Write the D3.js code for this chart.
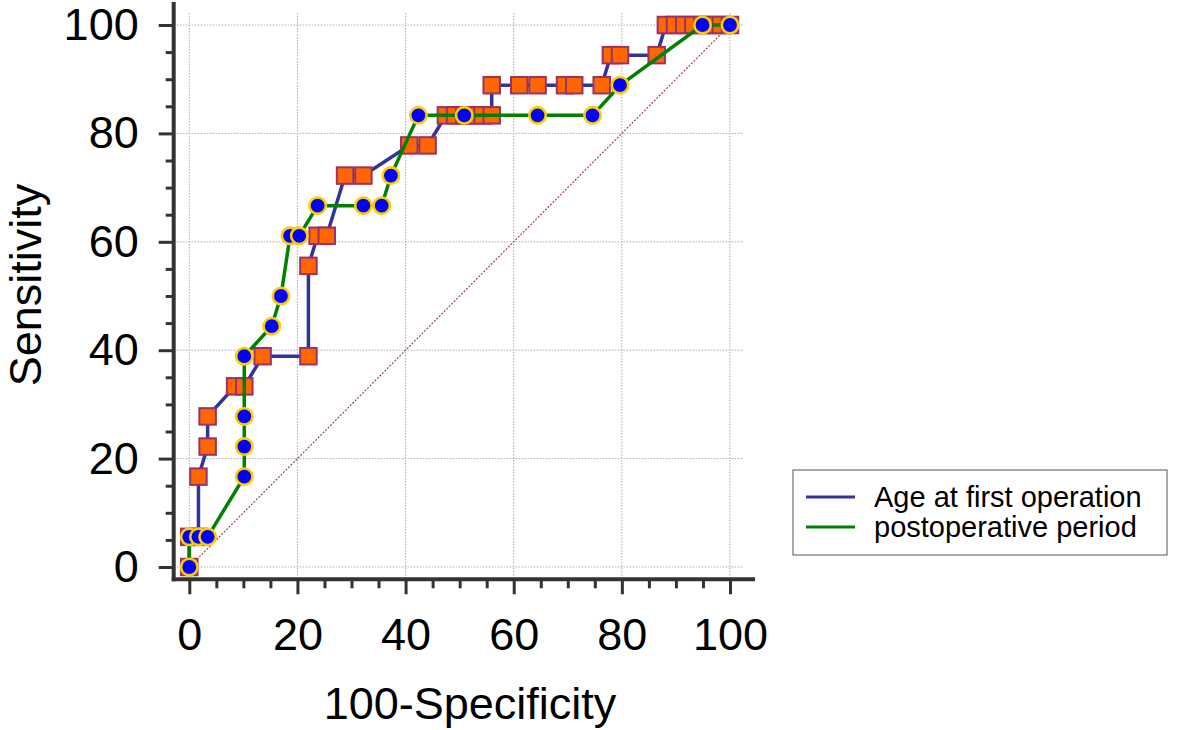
<!DOCTYPE html>
<html>
<head>
<meta charset="utf-8">
<script src="https://cdn.jsdelivr.net/npm/d3@7"></script>
<style>
  body { margin: 0; background: #fff; }
  text { font-family: "Liberation Sans", Arial, sans-serif; fill: #000; }
</style>
</head>
<body>
<svg id="chart"></svg>
<script>
// ROC data: x = 100-Specificity, y = Sensitivity
const ageFpr = [0, 0, 1.69, 1.69, 3.39, 3.39, 8.47, 10.17, 13.56, 22.03, 22.03, 23.73, 25.42, 28.81, 32.2,
    40.68, 44.07, 47.46, 49.15, 50.85, 52.54, 54.24, 55.93, 55.93, 61.02, 64.41, 69.49, 71.19, 76.27,
    77.97, 79.66, 86.44, 88.14, 89.83, 91.53, 93.22, 94.92, 96.61, 98.31, 100];
const ageSens = [0, 5.56, 5.56, 16.67, 22.22, 27.78, 33.33, 33.33, 38.89, 38.89, 55.56, 61.11, 61.11, 72.22, 72.22,
    77.78, 77.78, 83.33, 83.33, 83.33, 83.33, 83.33, 83.33, 88.89, 88.89, 88.89, 88.89, 88.89, 88.89,
    94.44, 94.44, 94.44, 100, 100, 100, 100, 100, 100, 100, 100];

const postFpr = [0, 0, 1.69, 3.39, 10.17, 10.17, 10.17, 10.17, 15.25, 16.95, 18.64, 20.34, 23.73, 32.2, 35.59,
    37.29, 42.37, 50.85, 64.41, 74.58, 79.66, 94.92, 100];
const postSens = [0, 5.56, 5.56, 5.56, 16.67, 22.22, 27.78, 38.89, 44.44, 50, 61.11, 61.11, 66.67, 66.67, 66.67,
    72.22, 83.33, 83.33, 83.33, 83.33, 88.89, 100, 100];

const seriesNames = ["Age at first operation", "postoperative period"];
const majorTicks = [0, 20, 40, 60, 80, 100];
const minorTicks = d3.range(0, 101, 5).filter(d => d % 20 !== 0);

const width = 1181, height = 730;
const svg = d3.select("#chart").attr("width", width).attr("height", height);

const x = d3.scaleLinear().domain([0, 100]).range([189.3, 730]);
const y = d3.scaleLinear().domain([0, 100]).range([567, 25]);

const axisX = 173.7, axisY = 579.3;
const axisColor = "#333";

// grid
const grid = svg.append("g")
    .attr("stroke", "#aaa")
    .attr("stroke-width", 1)
    .attr("stroke-dasharray", "1.5,1.5");
grid.selectAll(".gv").data(majorTicks).join("line")
    .attr("x1", d => x(d)).attr("x2", d => x(d))
    .attr("y1", 13).attr("y2", axisY);
grid.selectAll(".gh").data(majorTicks).join("line")
    .attr("x1", axisX).attr("x2", 743)
    .attr("y1", d => y(d)).attr("y2", d => y(d));

// diagonal reference
svg.append("line")
    .attr("x1", x(0)).attr("y1", y(0))
    .attr("x2", x(100)).attr("y2", y(100))
    .attr("stroke", "#a04848")
    .attr("stroke-width", 1.2)
    .attr("stroke-dasharray", "2,1.5");

// axes
const xAxis = d3.axisBottom(x).tickValues(majorTicks).tickSize(15).tickPadding(24);
const xAxisMinor = d3.axisBottom(x).tickValues(minorTicks).tickSize(9).tickFormat("");
const yAxis = d3.axisLeft(y).tickValues(majorTicks).tickSize(15).tickPadding(20);
const yAxisMinor = d3.axisLeft(y).tickValues(minorTicks).tickSize(8).tickFormat("");

function styleAxis(g) {
    g.select(".domain").remove();
    g.selectAll(".tick line").attr("stroke", axisColor).attr("stroke-width", 3);
    g.selectAll(".tick text").attr("font-size", 45).attr("font-family", "Liberation Sans, Arial, sans-serif").attr("fill", "#000");
}

svg.append("g").attr("transform", `translate(0,${axisY})`).call(xAxis).call(styleAxis);
svg.append("g").attr("transform", `translate(0,${axisY})`).call(xAxisMinor).call(styleAxis);
svg.append("g").attr("transform", `translate(${axisX},0)`).call(yAxis).call(styleAxis);
svg.append("g").attr("transform", `translate(${axisX},0)`).call(yAxisMinor).call(styleAxis);

svg.append("line")
    .attr("x1", axisX).attr("x2", axisX).attr("y1", 2).attr("y2", axisY + 2)
    .attr("stroke", axisColor).attr("stroke-width", 4);
svg.append("line")
    .attr("x1", axisX - 2).attr("x2", 755).attr("y1", axisY).attr("y2", axisY)
    .attr("stroke", axisColor).attr("stroke-width", 4);

// curves
const ageData = ageFpr.map((d, i) => ({ x: d, y: ageSens[i] }));
const postData = postFpr.map((d, i) => ({ x: d, y: postSens[i] }));

const line = d3.line().x(d => x(d.x)).y(d => y(d.y));

svg.append("path")
    .datum(ageData)
    .attr("fill", "none")
    .attr("stroke", "#333399")
    .attr("stroke-width", 3.5)
    .attr("d", line);

const sq = 16.5;
svg.append("g")
    .selectAll("rect")
    .data(ageData)
    .join("rect")
    .attr("x", d => x(d.x) - sq / 2)
    .attr("y", d => y(d.y) - sq / 2)
    .attr("width", sq)
    .attr("height", sq)
    .attr("fill", "#ff6600")
    .attr("stroke", "#993366")
    .attr("stroke-width", 2);

svg.append("path")
    .datum(postData)
    .attr("fill", "none")
    .attr("stroke", "#008000")
    .attr("stroke-width", 3.5)
    .attr("d", line);

svg.append("g")
    .selectAll("circle")
    .data(postData)
    .join("circle")
    .attr("cx", d => x(d.x))
    .attr("cy", d => y(d.y))
    .attr("r", 8.2)
    .attr("fill", "#0000ff")
    .attr("stroke", "#ffcc00")
    .attr("stroke-width", 2.6);

// axis titles
svg.append("text")
    .attr("x", 470).attr("y", 719)
    .attr("text-anchor", "middle")
    .attr("font-size", 45)
    .text("100-Specificity");

svg.append("text")
    .attr("transform", "translate(41,285) rotate(-90)")
    .attr("text-anchor", "middle")
    .attr("font-size", 45)
    .text("Sensitivity");

// legend
const legend = svg.append("g");
legend.append("rect")
    .attr("x", 793).attr("y", 470)
    .attr("width", 374).attr("height", 85)
    .attr("fill", "#fff")
    .attr("stroke", "#555")
    .attr("stroke-width", 1);

const legendColors = ["#333399", "#008000"];
const items = legend.selectAll(".item").data(seriesNames).join("g")
    .attr("transform", (d, i) => `translate(0,${497 + i * 30})`);
items.append("line")
    .attr("x1", 806).attr("x2", 855)
    .attr("stroke", (d, i) => legendColors[i])
    .attr("stroke-width", 3);
items.append("text")
    .attr("x", 874).attr("y", 10)
    .attr("font-size", 29)
    .text(d => d);
</script>
</body>
</html>
